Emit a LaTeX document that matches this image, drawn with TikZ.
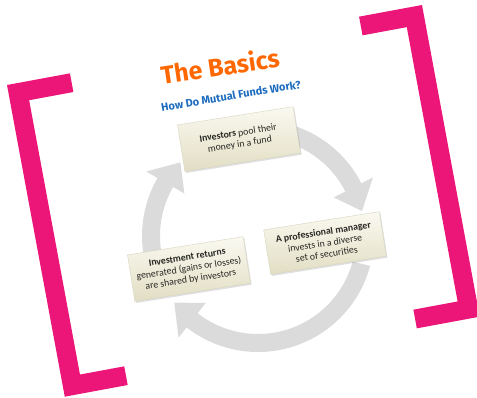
\documentclass[tikz,border=0pt]{standalone}
\usepackage{fontspec}
\setmainfont{Carlito}
\newfontfamily\titlefont{Fira Sans}
\usetikzlibrary{shadows}
\definecolor{bracketpink}{RGB}{236,21,120}
\definecolor{titleorange}{RGB}{255,104,0}
\definecolor{subblue}{RGB}{30,108,190}
\definecolor{ringgrey}{RGB}{219,219,219}
\definecolor{boxtop}{RGB}{250,249,240}
\definecolor{boxbottom}{RGB}{226,222,196}
\definecolor{boxline}{RGB}{215,212,190}
\definecolor{boxtext}{RGB}{40,40,36}
\tikzset{
  stepbox/.style={rotate=9, minimum width=117pt, minimum height=47pt, inner sep=0pt,
    align=center, font=\fontsize{9.8}{11.2}\selectfont, text=boxtext,
    top color=boxtop, bottom color=boxbottom, draw=boxline, line width=0.4pt,
    drop shadow={opacity=0.25, shadow xshift=1.2pt, shadow yshift=-1.6pt}},
  ringarrow/.style={fill=ringgrey, draw=none},
  bracket/.style={fill=bracketpink, draw=none}
}
\begin{document}
\begin{tikzpicture}[x=1pt, y=-1pt]
\useasboundingbox (0,0) rectangle (477,397);
% brackets
\begin{scope}[shift={(7,85)}, rotate=10.5]
  \fill[bracket] (0,0) -- (64,0) -- (64,19) -- (19,19) -- (19,298) -- (64,298) -- (64,317) -- (0,317) -- cycle;
\end{scope}
\begin{scope}[shift={(422,5)}, rotate=10.5]
  \fill[bracket] (0,0) -- (-64,0) -- (-64,19) -- (-19,19) -- (-19,298) -- (-64,298) -- (-64,317) -- (0,317) -- cycle;
\end{scope}
% cycle arrows
\begin{scope}[shift={(258,236)}, yscale=-1]
  \fill[ringarrow] (207:116) arc[start angle=207, end angle=150, radius=116] -- (150:129) -- (136.5:107) -- (150:85) -- (150:98) arc[start angle=150, end angle=207, radius=98] -- cycle;
  \fill[ringarrow] (78:116) arc[start angle=78, end angle=27, radius=116] -- (27:129) -- (13.5:107) -- (27:85) -- (27:98) arc[start angle=27, end angle=78, radius=98] -- cycle;
  \fill[ringarrow] (-15:116) arc[start angle=-15, end angle=-128, radius=116] -- (-128:129) -- (-141.5:107) -- (-128:85) -- (-128:98) arc[start angle=-128, end angle=-15, radius=98] -- cycle;
\end{scope}
% titles
\node[rotate=8.5, font=\titlefont\bfseries\fontsize{25}{27}\selectfont, text=titleorange] (title) at (220,66) {The Basics};
\node[rotate=9.5, font=\titlefont\bfseries\fontsize{11}{13}\selectfont, text=subblue] (subtitle) at (231,96) {How Do Mutual Funds Work?};
% boxes
\node[stepbox] (invest) at (239,139) {\textbf{Investors} pool their\\money in a fund};
\node[stepbox, minimum height=45pt] (manager) at (325,243) {\textbf{A professional manager}\\invests in a diverse\\set of securities};
\node[stepbox] (returns) at (189,269) {\textbf{Investment returns}\\generated (gains or losses)\\are shared by investors};
\end{tikzpicture}
\end{document}
